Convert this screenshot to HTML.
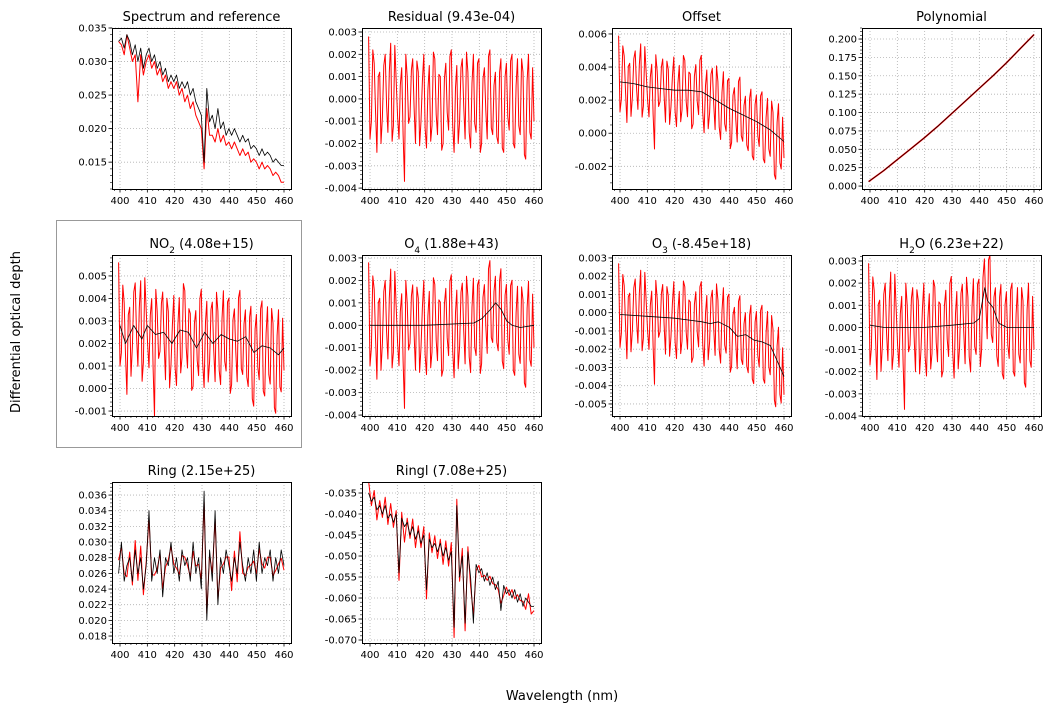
<!DOCTYPE html>
<html><head><meta charset="utf-8"><style>
body{margin:0;background:#fff;width:1055px;height:712px;overflow:hidden;font-family:"DejaVu Sans","Liberation Sans",sans-serif}
svg text{font-family:"DejaVu Sans","Liberation Sans",sans-serif}
</style></head><body>
<svg id="c" width="1055" height="712"></svg>
<script>
const wl = [];
for (let i = 0; i < 61; i++) wl.push(399.5 + i * (60.5 / 60));
const residual = [0.0028,-0.0010,0.0016,-0.0024,0.0012,-0.0008,0.0020,-0.0015,0.0025,-0.0012,0.0008,-0.0018,0.0014,-0.0037,0.0010,-0.0008,0.0018,-0.0020,0.0012,-0.0010,0.0020,-0.0022,0.0015,-0.0012,0.0018,-0.0016,0.0010,-0.0020,0.0016,-0.0014,0.0022,-0.0024,0.0015,-0.0010,0.0018,-0.0018,0.0012,-0.0022,0.0020,-0.0015,0.0018,-0.0020,0.0014,-0.0018,0.0022,-0.0016,0.0012,-0.0020,0.0018,-0.0024,0.0016,-0.0014,0.0020,-0.0022,0.0018,-0.0016,0.0012,-0.0027,0.0020,-0.0018,-0.0010];
const residualMid = [-0.0018,0.0022,-0.0005,0.0010,-0.0020,0.0015,-0.0003,0.0012,-0.0019,0.0024,-0.0008,0.0006,-0.0016,0.0020,-0.0011,0.0013,-0.0004,0.0017,-0.0021,0.0008,-0.0013,0.0004,-0.0019,0.0021,-0.0007,0.0011,-0.0023,0.0009,-0.0006,0.0019,-0.0012,0.0005,-0.0020,0.0014,-0.0003,0.0021,-0.0015,0.0007,-0.0011,0.0016,-0.0024,0.0009,-0.0005,0.0019,-0.0013,0.0006,-0.0017,0.0012,-0.0022,0.0010,-0.0008,0.0017,-0.0020,0.0006,-0.0012,0.0018,-0.0025,0.0008,-0.0015,0.0014];
const specRef = [0.033,0.0335,0.032,0.034,0.033,0.031,0.0325,0.030,0.032,0.029,0.031,0.032,0.030,0.031,0.029,0.030,0.028,0.029,0.027,0.028,0.027,0.028,0.026,0.027,0.026,0.027,0.025,0.026,0.024,0.023,0.022,0.015,0.026,0.021,0.022,0.020,0.023,0.020,0.021,0.019,0.020,0.019,0.020,0.019,0.018,0.019,0.018,0.0185,0.017,0.0175,0.017,0.016,0.017,0.016,0.0165,0.016,0.015,0.0155,0.015,0.0145,0.0145];
const specMeas = [0.033,0.0325,0.031,0.034,0.032,0.030,0.031,0.024,0.031,0.028,0.030,0.031,0.029,0.030,0.028,0.029,0.027,0.028,0.026,0.027,0.026,0.027,0.025,0.026,0.024,0.025,0.023,0.024,0.022,0.021,0.020,0.014,0.023,0.019,0.019,0.018,0.020,0.018,0.019,0.0175,0.018,0.017,0.018,0.017,0.016,0.017,0.016,0.0165,0.015,0.0155,0.015,0.014,0.015,0.014,0.0145,0.014,0.013,0.0135,0.013,0.012,0.012];
const offX = [400,405,410,415,420,425,430,435,440,445,450,455,460];
const offY = [0.0031,0.0030,0.0028,0.0027,0.0026,0.0026,0.0025,0.0020,0.0015,0.0011,0.0007,0.0002,-0.0005];
const polyX = [399.5,405,410,415,420,425,430,435,440,445,450,455,460];
const polyY = [0.006,0.021,0.036,0.051,0.066,0.082,0.099,0.116,0.133,0.150,0.168,0.187,0.206];
const no2X = [400,402,405,408,410,413,416,419,422,425,428,431,434,437,440,443,446,449,452,455,458,460];
const no2Y = [0.0028,0.0020,0.0028,0.0022,0.0028,0.0024,0.0025,0.0020,0.0026,0.0025,0.0018,0.0025,0.0020,0.0024,0.0022,0.0021,0.0023,0.0016,0.0019,0.0018,0.0015,0.0018];
const o4X = [400,420,438,441,444,446,448,450,452,455,460];
const o4Y = [0,0,0.0001,0.0003,0.0007,0.0010,0.0007,0.0002,0,-0.0001,0];
const o3X = [400,410,420,425,430,433,436,440,443,446,449,452,455,458,460];
const o3Y = [-0.0001,-0.0002,-0.0003,-0.0004,-0.0005,-0.0006,-0.0005,-0.0008,-0.0013,-0.0012,-0.0015,-0.0016,-0.0018,-0.0028,-0.0035];
const h2oX = [400,405,420,430,438,440,442,443,445,447,450,460];
const h2oY = [0.0001,0,0,0.0001,0.0002,0.0004,0.0018,0.0012,0.0009,0.0002,0,0];
const ringRef = [0.026,0.030,0.025,0.027,0.028,0.025,0.029,0.026,0.028,0.024,0.027,0.034,0.025,0.028,0.026,0.029,0.023,0.028,0.027,0.030,0.026,0.028,0.025,0.029,0.027,0.028,0.025,0.030,0.026,0.028,0.024,0.0365,0.020,0.029,0.025,0.034,0.022,0.028,0.026,0.029,0.027,0.025,0.028,0.026,0.030,0.027,0.025,0.028,0.026,0.029,0.025,0.030,0.026,0.028,0.027,0.029,0.025,0.028,0.026,0.029,0.027];
const ringlRef = [-0.035,-0.037,-0.036,-0.039,-0.038,-0.040,-0.038,-0.041,-0.040,-0.042,-0.040,-0.054,-0.041,-0.043,-0.042,-0.045,-0.043,-0.046,-0.044,-0.047,-0.045,-0.058,-0.046,-0.048,-0.047,-0.049,-0.047,-0.050,-0.048,-0.051,-0.049,-0.067,-0.038,-0.055,-0.050,-0.066,-0.049,-0.055,-0.066,-0.052,-0.054,-0.053,-0.056,-0.054,-0.057,-0.055,-0.058,-0.056,-0.063,-0.057,-0.059,-0.058,-0.060,-0.058,-0.061,-0.059,-0.062,-0.060,-0.061,-0.062,-0.062];
const xTicks = [400,410,420,430,440,450,460];

// merged dense residual grid
const wlD = [], resD = [];
for (let i = 0; i < wl.length; i++) {
  wlD.push(wl[i]); resD.push(residual[i]);
  if (i < wl.length - 1 && i < residualMid.length) { wlD.push((wl[i] + wl[i+1]) / 2); resD.push(residualMid[i]); }
}

function interp(xs, ys, x){
  if (x <= xs[0]) return ys[0];
  for (let i = 1; i < xs.length; i++) if (x <= xs[i]) { const t=(x-xs[i-1])/(xs[i]-xs[i-1]); return ys[i-1]+t*(ys[i]-ys[i-1]); }
  return ys[ys.length-1];
}
const withRes = (xs, ys, k) => wlD.map((x,i)=>interp(xs,ys,x)+resD[i]*k);

const colX = [112,362,612,862], rowY = [28,255,482], W = 179, H = 161;
const panels = [
 {name:'spectrum',title:'Spectrum and reference',c:0,r:0,y0:0.011,y1:0.035,ticks:[0.015,0.020,0.025,0.030,0.035],dec:3,minor:0.001,
  series:[{x:wl,y:specMeas,col:'red',w:1},{x:wl,y:specRef,col:'black',w:0.8}]},
 {name:'residual',title:'Residual (9.43e-04)',c:1,r:0,y0:-0.00404,y1:0.00318,ticks:[-0.004,-0.003,-0.002,-0.001,0,0.001,0.002,0.003],dec:3,minor:0.0002,
  series:[{x:wlD,y:resD,col:'red',w:1}]},
 {name:'offset',title:'Offset',c:2,r:0,y0:-0.00337,y1:0.00636,ticks:[-0.002,0,0.002,0.004,0.006],dec:3,minor:0.0005,
  series:[{x:wlD,y:withRes(offX,offY,1),col:'red',w:1},{x:offX,y:offY,col:'black',w:0.8}]},
 {name:'polynomial',title:'Polynomial',c:3,r:0,y0:-0.004,y1:0.215,ticks:[0,0.025,0.05,0.075,0.1,0.125,0.15,0.175,0.2],dec:3,minor:0.005,
  series:[{x:polyX,y:polyY,col:'red',w:1.6},{x:polyX,y:polyY,col:'black',w:0.7}]},
 {name:'no2',title:'NO<tspan baseline-shift="sub" font-size="9">2</tspan> (4.08e+15)',c:0,r:1,y0:-0.00122,y1:0.00593,ticks:[-0.001,0,0.001,0.002,0.003,0.004,0.005],dec:3,minor:0.0002,
  series:[{x:wlD,y:withRes(no2X,no2Y,1),col:'red',w:1},{x:no2X,y:no2Y,col:'black',w:0.8}]},
 {name:'o4',title:'O<tspan baseline-shift="sub" font-size="9">4</tspan> (1.88e+43)',c:1,r:1,y0:-0.00404,y1:0.00313,ticks:[-0.004,-0.003,-0.002,-0.001,0,0.001,0.002,0.003],dec:3,minor:0.0002,
  series:[{x:wlD,y:withRes(o4X,o4Y,1),col:'red',w:1},{x:o4X,y:o4Y,col:'black',w:0.8}]},
 {name:'o3',title:'O<tspan baseline-shift="sub" font-size="9">3</tspan> (-8.45e+18)',c:2,r:1,y0:-0.00566,y1:0.00316,ticks:[-0.005,-0.004,-0.003,-0.002,-0.001,0,0.001,0.002,0.003],dec:3,minor:0.0002,
  series:[{x:wlD,y:withRes(o3X,o3Y,1),col:'red',w:1},{x:o3X,y:o3Y,col:'black',w:0.8}]},
 {name:'h2o',title:'H<tspan baseline-shift="sub" font-size="9">2</tspan>O (6.23e+22)',c:3,r:1,y0:-0.004,y1:0.00327,ticks:[-0.004,-0.003,-0.002,-0.001,0,0.001,0.002,0.003],dec:3,minor:0.0002,
  series:[{x:wlD,y:withRes(h2oX,h2oY,1),col:'red',w:1},{x:h2oX,y:h2oY,col:'black',w:0.8}]},
 {name:'ring',title:'Ring (2.15e+25)',c:0,r:2,y0:0.01711,y1:0.03767,ticks:[0.018,0.020,0.022,0.024,0.026,0.028,0.030,0.032,0.034,0.036],dec:3,minor:0.0005,
  series:[{x:wl,y:ringRef.map((v,i)=>v+residual[i]*0.6),col:'red',w:1},{x:wl,y:ringRef,col:'black',w:0.8}]},
 {name:'ringl',title:'Ringl (7.08e+25)',c:1,r:2,y0:-0.07071,y1:-0.03238,ticks:[-0.070,-0.065,-0.060,-0.055,-0.050,-0.045,-0.040,-0.035],dec:3,minor:0.001,
  series:[{x:wl,y:ringlRef.map((v,i)=>v+residual[i]*1),col:'red',w:1},{x:wl,y:ringlRef,col:'black',w:0.8}]}
];
const NS='http://www.w3.org/2000/svg', svg=document.getElementById('c');
function mk(tag, attrs, parent){ const e=document.createElementNS(NS,tag); for(const k in attrs) e.setAttribute(k,attrs[k]); (parent||svg).appendChild(e); return e; }

const box = mk('rect',{x:56.5,y:220.5,width:245,height:227,fill:'none',stroke:'#999','stroke-width':1});



panels.forEach(p=>{
  const L=colX[p.c], T=rowY[p.r];
  const g=mk('g',{});
  
  
  const sx=x=>L+(x-397.07)/(462.56-397.07)*W;
  const sy=y=>T+H-(y-p.y0)/(p.y1-p.y0)*H;
  xTicks.forEach(t=>mk('line',{x1:sx(t),x2:sx(t),y1:T,y2:T+H,stroke:'#b0b0b0','stroke-width':0.8,'stroke-dasharray':'1,2'},g));
  p.ticks.forEach(t=>mk('line',{x1:L,x2:L+W,y1:sy(t),y2:sy(t),stroke:'#b0b0b0','stroke-width':0.8,'stroke-dasharray':'1,2'},g));
  const clip='clip-'+p.name;
  const cp=mk('clipPath',{id:clip},g); mk('rect',{x:L,y:T,width:W,height:H},cp);
  p.series.forEach(s=>{
    const d=s.x.map((x,i)=>(i?'L':'M')+sx(x).toFixed(1)+','+sy(s.y[i]).toFixed(1)).join('');
    const path=mk('path',{d:d,fill:'none',stroke:s.col,'stroke-width':s.w,'stroke-linejoin':'round','clip-path':'url(#'+clip+')'},g);
    
    
  });
  mk('rect',{x:L+0.5,y:T+0.5,width:W,height:H,fill:'none',stroke:'#000','stroke-width':1},g);
  for(let m=398;m<=462;m+=2) if(m%10) mk('line',{x1:sx(m),x2:sx(m),y1:T+H,y2:T+H+2,stroke:'#000','stroke-width':0.6},g);
  xTicks.forEach(t=>{
    mk('line',{x1:sx(t),x2:sx(t),y1:T+H,y2:T+H+3.5,stroke:'#000','stroke-width':0.8},g);
    const tx=mk('text',{x:sx(t),y:T+H+15,'font-size':10,'text-anchor':'middle'},g); tx.textContent=t;
  });
  const mstart=Math.ceil(p.y0/p.minor);
  for(let k=mstart;k*p.minor<=p.y1;k++){ const y=sy(k*p.minor); mk('line',{x1:L-2,x2:L,y1:y,y2:y,stroke:'#000','stroke-width':0.6},g); }
  p.ticks.forEach(t=>{
    mk('line',{x1:L-3.5,x2:L,y1:sy(t),y2:sy(t),stroke:'#000','stroke-width':0.8},g);
    const tx=mk('text',{x:L-5,y:sy(t)+3.5,'font-size':10,'text-anchor':'end'},g);
    tx.textContent=t.toFixed(p.dec);
  });
  const ti=mk('text',{x:L+W/2,y:T-7,'font-size':13,'text-anchor':'middle'},g);
  ti.innerHTML=p.title;
  
  
});
const yl=mk('text',{x:0,y:0,'font-size':13,'text-anchor':'middle',transform:'translate(20,332) rotate(-90)'});
yl.textContent='Differential optical depth';


const xl=mk('text',{x:562,y:700,'font-size':13,'text-anchor':'middle'});
xl.textContent='Wavelength (nm)';


</script>
</body></html>
